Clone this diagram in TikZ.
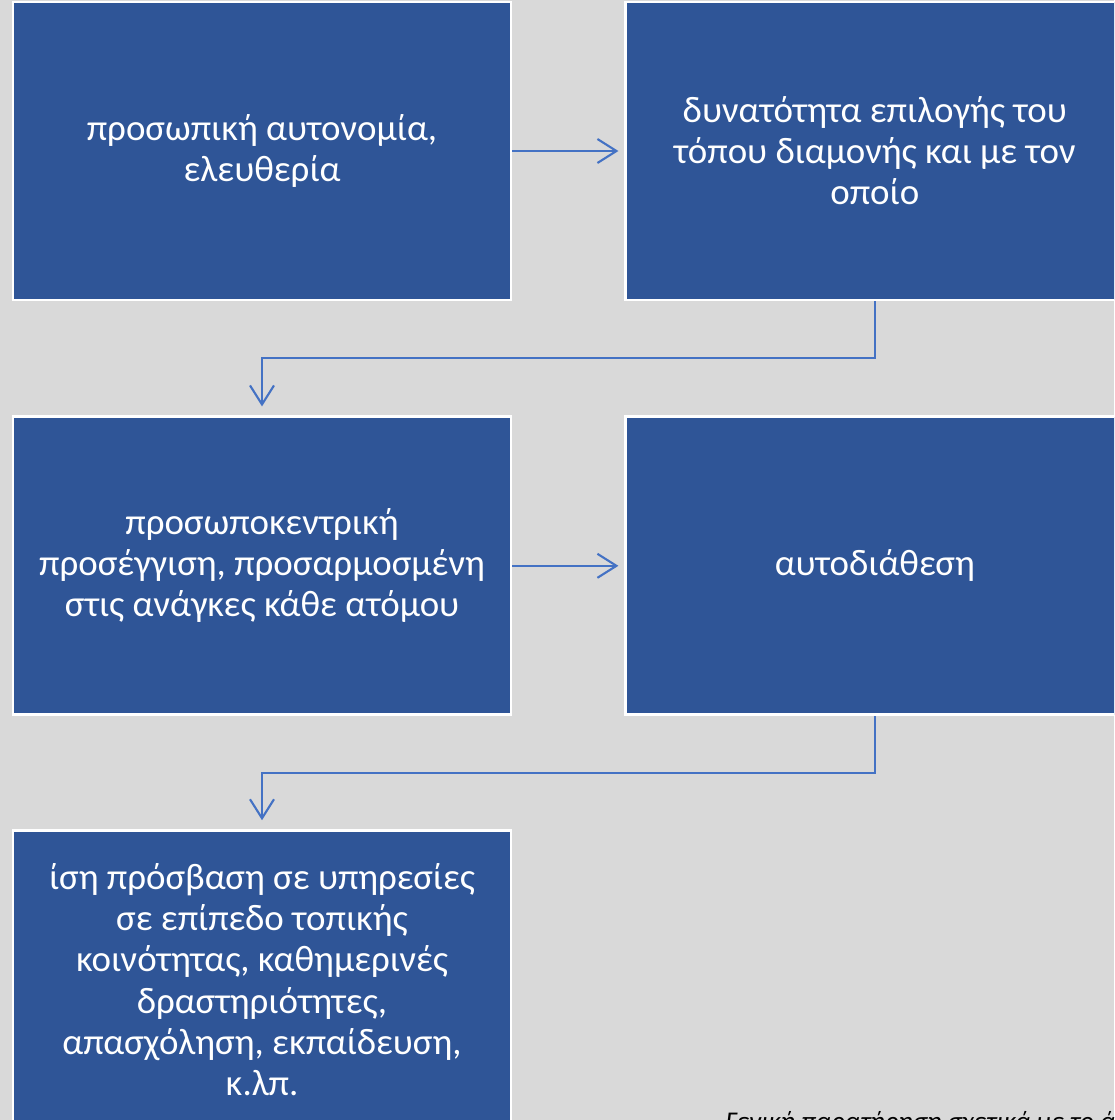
\documentclass[tikz,border=0pt]{standalone}
\usepackage{fontspec}
\setmainfont{Carlito}
\definecolor{BoxBlue}{HTML}{2F5597}
\definecolor{LinkBlue}{HTML}{4472C4}
\definecolor{PageGrey}{HTML}{D9D9D9}
\usetikzlibrary{positioning,arrows.meta}

\begin{document}
\begin{tikzpicture}[
    stepbox/.style={draw=white, line width=1.6pt, fill=BoxBlue, text=white,
        minimum width=9.96cm, minimum height=5.96cm, align=center,
        font=\fontsize{21}{23.4}\selectfont, inner sep=0pt},
    link/.style={draw=LinkBlue, line width=1.2pt,
        -{Straight Barb[length=0.38cm, width=0.48cm, line width=1.2pt]}}
  ]
        \useasboundingbox (0,0) rectangle (22.28,-22.4);
        \clip (0,0) rectangle (22.28,-22.4);
        \fill[PageGrey] (0,0) rectangle (22.28,-22.4);

        \node[stepbox] (autonomy) at (5.24,-3.02) {προσωπική αυτονομία,\\ελευθερία};
        \node[stepbox, right=2.24cm of autonomy] (choice) {δυνατότητα επιλογής του\\τόπου διαμονής και με τον\\οποίο};
        \node[stepbox, below=2.28cm of autonomy] (person) {προσωποκεντρική\\προσέγγιση, προσαρμοσμένη\\στις ανάγκες κάθε ατόμου};
        \node[stepbox, right=2.24cm of person] (selfdet) {αυτοδιάθεση};
        \node[stepbox, below=2.26cm of person] (access) {ίση πρόσβαση σε υπηρεσίες\\σε επίπεδο τοπικής\\κοινότητας, καθημερινές\\δραστηριότητες,\\απασχόληση, εκπαίδευση,\\κ.λπ.};

        \node[anchor=base west, font=\fontsize{15.4}{18}\selectfont\itshape, inner sep=0pt] (note) at (14.5,-22.6) {Γενική παρατήρηση σχετικά με το ά};

        \draw[link, shorten >=0.12cm] (autonomy.east) -- (choice.west);
        \draw[link, shorten >=0.18cm] (choice.south) -- ++(0,-1.14) -| (person.north);
        \draw[link, shorten >=0.12cm] (person.east) -- (selfdet.west);
        \draw[link, shorten >=0.18cm] (selfdet.south) -- ++(0,-1.14) -| (access.north);
    \end{tikzpicture}
\end{document}
